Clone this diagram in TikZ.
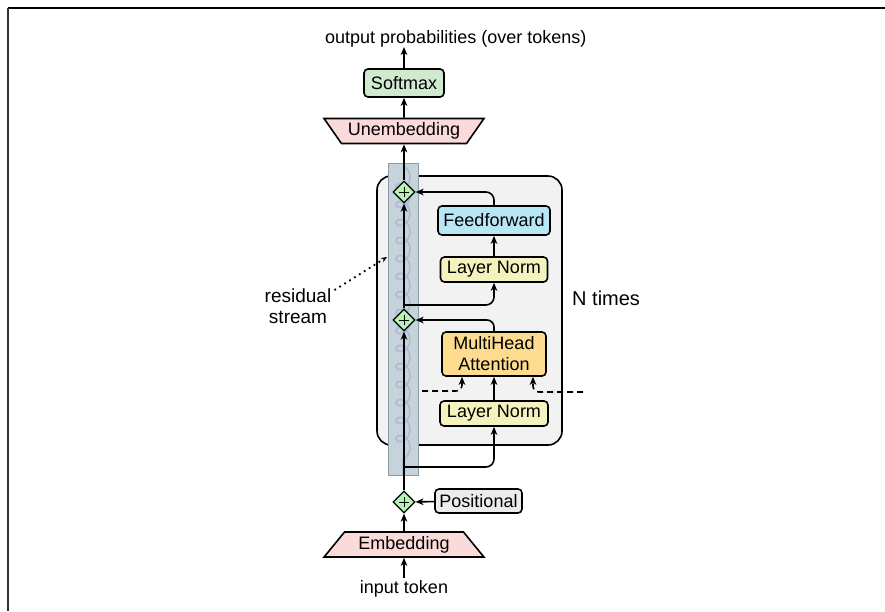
\documentclass[tikz,border=0pt]{standalone}
\usepackage{fontspec}
\setmainfont{Liberation Sans}
\usetikzlibrary{shapes.geometric,arrows.meta,decorations.pathmorphing,calc}
\definecolor{softgreen}{HTML}{D0EAD0}
\definecolor{pinkfill}{HTML}{FBDADA}
\definecolor{ffblue}{HTML}{B9E6F5}
\definecolor{lnyellow}{HTML}{F4F3C0}
\definecolor{mhaorange}{HTML}{FDDB8F}
\definecolor{posgray}{HTML}{ECECEC}
\definecolor{blockgray}{HTML}{F2F2F2}
\definecolor{bandfill}{HTML}{C4D4DA}
\definecolor{bandedge}{HTML}{8E9CA2}
\definecolor{coilcol}{HTML}{B3B6D8}
\definecolor{plusgreen}{HTML}{B4F2B4}
\begin{document}
\begin{tikzpicture}[x=1pt,y=-1pt,
  every node/.style={font=\fontsize{18}{20}\selectfont},
  box/.style={draw, line width=1.6pt, rounded corners=4pt, inner sep=0pt, align=center},
  trap/.style={draw, line width=1.6pt, fill=pinkfill, trapezium, trapezium angle=47,
     trapezium stretches=true, minimum width=160pt, inner sep=0pt},
  arr/.style={-{Stealth[length=8pt,width=6.5pt,inset=2.2pt]}, line width=1.6pt},
  plusnode/.style={diamond, draw, fill=plusgreen, line width=1.2pt, minimum size=22pt, inner sep=0pt,
     path picture={\draw[line width=1pt] (path picture bounding box.center) +(-5,0) -- +(5,0) +(0,-5) -- +(0,5);}},
  dotarr/.style={-{Stealth[length=6pt,width=5pt,inset=2pt]}, line width=1.8pt, dash pattern=on 1.8pt off 4pt},
  dasharr/.style={arr, dash pattern=on 6pt off 4pt}
]
\useasboundingbox (0,0) rectangle (885,611);
% frame fragments
\draw[line width=1.2pt] (8,8) -- (885,8);
\draw[line width=1.2pt, black!80] (8,8) -- (8,611);

% repeated block
\node[draw, fill=blockgray, line width=1.6pt, rounded corners=14pt, minimum width=185pt, minimum height=269pt, inner sep=0pt] (block) at (469.5,310.5) {};

% residual stream band
\node[fill=bandfill, draw=bandedge, line width=0.8pt, minimum width=30pt, minimum height=312pt, inner sep=0pt] (stream) at (403,319) {};
\draw[coilcol, line width=1.6pt, decorate, decoration={coil, amplitude=7pt, segment length=18pt, aspect=1}] (403,166) -- (403,474);

% nodes
\node[anchor=base west, inner sep=0pt] (title) at (325,43) {output probabilities (over tokens)};
\node[box, fill=softgreen, minimum width=80pt, minimum height=28pt] (softmax) at (404,83) {Softmax};
\node[trap, shape border rotate=180, minimum height=25pt] (unemb) at (404,131) {Unembedding};

\node[box, fill=ffblue, minimum width=112pt, minimum height=29pt] (ff) at (494,220.5) {Feedforward};
\node[box, fill=lnyellow, minimum width=107pt, minimum height=25pt] (ln1) at (494,269.5) {Layer Norm};
\node[box, fill=mhaorange, minimum width=104pt, minimum height=44pt, font=\fontsize{18}{21}\selectfont] (mha) at (494,354) {MultiHead\\Attention};
\node[box, fill=lnyellow, minimum width=108pt, minimum height=25pt] (ln2) at (494,413.5) {Layer Norm};

\node[plusnode] (p1) at (404,192) {};
\node[plusnode] (p2) at (404,320) {};
\node[plusnode] (p0) at (404,502) {};

\node[box, fill=posgray, minimum width=87pt, minimum height=24pt] (pos) at (478.5,501) {Positional};
\node[trap, minimum height=25pt] (emb) at (404,544.5) {Embedding};
\node[anchor=base, inner sep=2pt] (intok) at (404,593) {input token};

\node[align=center, font=\fontsize{19}{21.5}\selectfont, inner sep=0pt] (res) at (298,306) {residual\\stream};
\node[anchor=base west, inner sep=0pt, font=\fontsize{20}{22}\selectfont] (ntimes) at (572,305) {N times};

% coordinates
\coordinate (b1) at (404,305);
\coordinate (b2) at (404,467);
\coordinate (dl) at (422,391);
\coordinate (dr) at (583,392);
\coordinate (rt) at (387,257);

% connectors
\draw[arr] (intok) -- (emb);
\draw[arr] (emb) -- (p0);
\draw[arr] (pos) -- (p0);
\draw[arr] (p0) -- (p2);
\draw[arr] (p2) -- (p1);
\draw[arr] (p1) -- (unemb);
\draw[arr] (unemb) -- (softmax);
\draw[arr] (softmax.north) -- (softmax.north |- title.south);

\draw[arr, rounded corners=8pt] (b1) -| (ln1);
\draw[arr] (ln1) -- (ff);
\draw[arr, rounded corners=8pt] (ff) |- (p1);

\draw[arr, rounded corners=8pt] (b2) -| (ln2);
\draw[arr] (ln2) -- (mha);
\draw[arr, rounded corners=7pt] (mha) |- (p2);

\draw[dasharr, rounded corners=6pt] (dl) -| ([xshift=-32pt]mha.south);
\draw[dasharr, rounded corners=6pt] (dr) -| ([xshift=39pt]mha.south);

\draw[dotarr] ([shift={(3pt,-2pt)}]res.north east) -- (rt);
\end{tikzpicture}
\end{document}
